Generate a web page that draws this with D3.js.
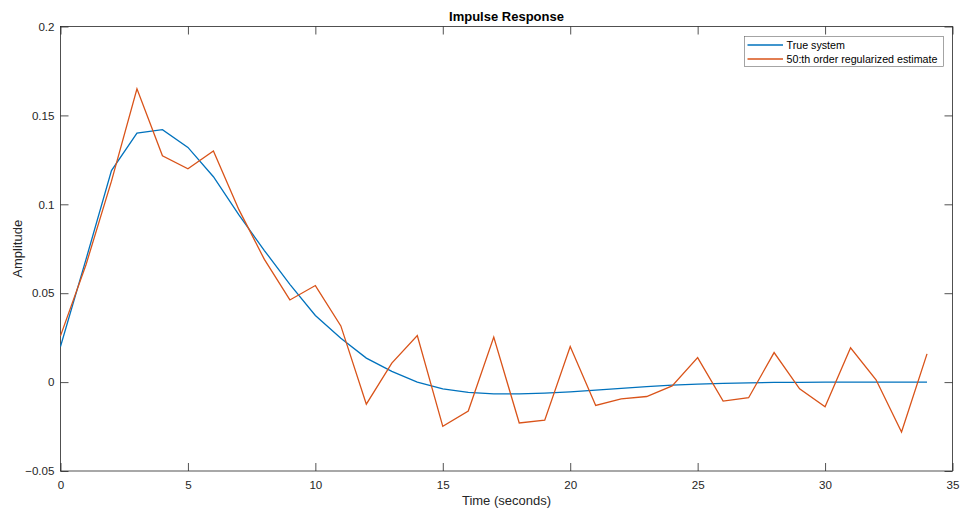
<!DOCTYPE html>
<html>
<head>
<meta charset="utf-8">
<script src="https://cdn.jsdelivr.net/npm/d3@7"></script>
<style>
  html, body { margin: 0; padding: 0; background: #fff; }
  svg { display: block; font-family: "Liberation Sans", Arial, Helvetica, sans-serif; }
</style>
</head>
<body>
<svg id="chart" width="961" height="515"></svg>
<script>
// Sample times (seconds)
const times = d3.range(0, 35);

// Impulse response of the true system
const trueSystem = [
  0.020, 0.069, 0.119, 0.140, 0.142, 0.132, 0.1155, 0.094, 0.074, 0.055,
  0.0375, 0.0247, 0.0135, 0.006, 0.0, -0.0038, -0.0058, -0.0066, -0.0066, -0.0062,
  -0.0055, -0.0045, -0.0035, -0.0025, -0.0017, -0.0011, -0.0007, -0.0004, -0.0002, -0.0001,
  0.0, 0.0, 0.0, 0.0, 0.0
];

// 50:th order regularized FIR estimate
const regEstimate = [
  0.026, 0.066, 0.113, 0.165, 0.1273, 0.120, 0.130, 0.097, 0.069, 0.0462,
  0.0543, 0.0316, -0.0124, 0.0107, 0.0262, -0.0249, -0.0163, 0.0253, -0.023, -0.0214,
  0.020, -0.0131, -0.0094, -0.0081, -0.0021, 0.0138, -0.0107, -0.0088, 0.0166, -0.0038,
  -0.0139, 0.0193, 0.0013, -0.0281, 0.0159
];

const xTicks = [0, 5, 10, 15, 20, 25, 30, 35];
const yTicks = [-0.05, 0, 0.05, 0.1, 0.15, 0.2];
const seriesNames = ["True system", "50:th order regularized estimate"];
const seriesColors = ["#0072BD", "#D95319"];

const svg = d3.select("#chart");
const margin = { left: 60.5, right: 952.5, top: 26.5, bottom: 471 };
const axisColor = "#262626";

const x = d3.scaleLinear().domain([0, 35]).range([margin.left, margin.right]);
const y = d3.scaleLinear().domain([-0.05, 0.2]).range([margin.bottom, margin.top]);

// Plot box
svg.append("rect")
  .attr("x", margin.left).attr("y", margin.top)
  .attr("width", margin.right - margin.left)
  .attr("height", margin.bottom - margin.top)
  .attr("fill", "#fff").attr("stroke", axisColor).attr("stroke-width", 0.8);

const tickLen = 8;
const fmtY = d => d === 0 ? "0" : d3.format("")(+d.toFixed(2));

// Bottom axis (ticks pointing inward)
const xAxis = d3.axisBottom(x).tickValues(xTicks).tickSize(-tickLen).tickPadding(9.5).tickFormat(d3.format("d"));
svg.append("g").attr("transform", `translate(0,${margin.bottom})`).call(xAxis)
  .call(g => g.select(".domain").remove());
// Top axis (ticks only)
svg.append("g").attr("transform", `translate(0,${margin.top})`)
  .call(d3.axisTop(x).tickValues(xTicks).tickSize(-tickLen).tickFormat(""))
  .call(g => g.select(".domain").remove());

// Left axis
const yAxis = d3.axisLeft(y).tickValues(yTicks).tickSize(-tickLen).tickPadding(6).tickFormat(fmtY);
svg.append("g").attr("transform", `translate(${margin.left},0)`).call(yAxis)
  .call(g => g.select(".domain").remove());
// Right axis (ticks only)
svg.append("g").attr("transform", `translate(${margin.right},0)`)
  .call(d3.axisRight(y).tickValues(yTicks).tickSize(-tickLen).tickFormat(""))
  .call(g => g.select(".domain").remove());

svg.selectAll(".tick line").attr("stroke", axisColor).attr("stroke-width", 0.8);
svg.selectAll(".tick text").attr("fill", axisColor).attr("font-size", 11.6)
  .attr("font-family", "'Liberation Sans', Arial, sans-serif");

// Series lines
const line = d3.line().x((d, i) => x(times[i])).y(d => y(d));
[trueSystem, regEstimate].forEach((s, k) => {
  svg.append("path").datum(s)
    .attr("d", line)
    .attr("fill", "none")
    .attr("stroke", seriesColors[k])
    .attr("stroke-width", 1.3)
    .attr("stroke-linejoin", "miter");
});

// Title and axis labels
svg.append("text").attr("x", (margin.left + margin.right) / 2).attr("y", 21)
  .attr("text-anchor", "middle").attr("font-weight", "bold").attr("font-size", 13)
  .attr("fill", "#000").text("Impulse Response");

svg.append("text").attr("x", (margin.left + margin.right) / 2).attr("y", 505)
  .attr("text-anchor", "middle").attr("font-size", 13).attr("fill", axisColor)
  .text("Time (seconds)");

svg.append("text")
  .attr("transform", `translate(21.5,${(margin.top + margin.bottom) / 2}) rotate(-90)`)
  .attr("text-anchor", "middle").attr("font-size", 13).attr("fill", axisColor)
  .text("Amplitude");

// Legend
const legend = svg.append("g").attr("transform", "translate(744.5,36.5)");
legend.append("rect").attr("width", 199).attr("height", 30)
  .attr("fill", "#fff").attr("stroke", "#262626").attr("stroke-width", 0.6).attr("stroke-opacity", 0.7);
seriesNames.forEach((name, i) => {
  const yy = 8.5 + i * 14;
  legend.append("line").attr("x1", 3).attr("x2", 38.5).attr("y1", yy).attr("y2", yy)
    .attr("stroke", seriesColors[i]).attr("stroke-width", 1.3);
  legend.append("text").attr("x", 42).attr("y", yy + 3.8)
    .attr("font-size", 10.7).attr("fill", "#000").text(name);
});
</script>
</body>
</html>
